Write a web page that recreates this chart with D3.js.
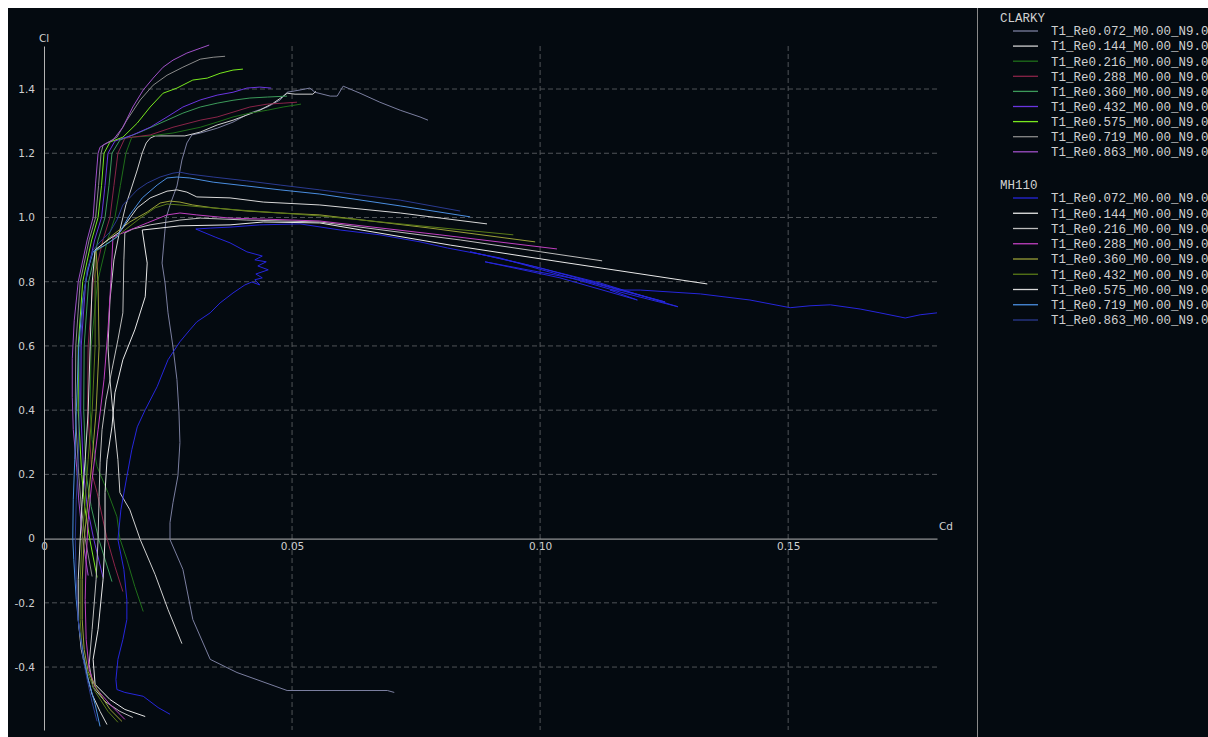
<!DOCTYPE html>
<html><head><meta charset="utf-8">
<script src="https://cdn.jsdelivr.net/npm/d3@7"></script>
<style>html,body{margin:0;padding:0;background:#fff;}svg{display:block}</style>
</head><body>
<svg id="chart" width="1208" height="737"></svg>
<script>
// ---------- DATA ----------
const airfoils = ["CLARKY", "MH110"];
const polarLabels = ["T1_Re0.072_M0.00_N9.0","T1_Re0.144_M0.00_N9.0","T1_Re0.216_M0.00_N9.0","T1_Re0.288_M0.00_N9.0","T1_Re0.360_M0.00_N9.0","T1_Re0.432_M0.00_N9.0","T1_Re0.575_M0.00_N9.0","T1_Re0.719_M0.00_N9.0","T1_Re0.863_M0.00_N9.0"];
const xTicks = [0, 0.05, 0.10, 0.15];
const xTickLabels = ["0", "0.05", "0.10", "0.15"];
const yTicks = [-0.4, -0.2, 0, 0.2, 0.4, 0.6, 0.8, 1.0, 1.2, 1.4];
const yTickLabels = ["-0.4", "-0.2", "0", "0.2", "0.4", "0.6", "0.8", "1.0", "1.2", "1.4"];

// CLARKY polars: [Cd, Cl]
const clarky072 = [[0.0706,-0.479],[0.0692,-0.473],[0.0490,-0.473],[0.0389,-0.417],[0.0335,-0.376],[0.0300,-0.252],[0.0280,-0.096],[0.0254,-0.003],[0.0254,0.050],[0.0260,0.112],[0.0270,0.196],[0.0274,0.299],[0.0272,0.395],[0.0268,0.495],[0.0260,0.597],[0.0250,0.703],[0.0244,0.796],[0.0238,0.858],[0.0246,0.998],[0.0254,1.039],[0.0268,1.098],[0.0278,1.179],[0.0288,1.232],[0.0298,1.257],[0.0315,1.263],[0.0349,1.278],[0.0381,1.297],[0.0415,1.325],[0.0450,1.344],[0.0476,1.366],[0.0490,1.390],[0.0516,1.397],[0.0536,1.403],[0.0546,1.390],[0.0577,1.378],[0.0591,1.378],[0.0603,1.409],[0.0637,1.387],[0.0677,1.359],[0.0718,1.334],[0.0758,1.313],[0.0774,1.303]];
const clarky144 = [[0.0278,-0.327],[0.0250,-0.221],[0.0224,-0.112],[0.0194,-0.003],[0.0173,0.090],[0.0153,0.143],[0.0149,0.246],[0.0139,0.392],[0.0133,0.495],[0.0129,0.597],[0.0133,0.743],[0.0141,0.868],[0.0153,0.961],[0.0165,1.039],[0.0177,1.095],[0.0188,1.148],[0.0198,1.201],[0.0206,1.232],[0.0214,1.247],[0.0224,1.254],[0.0284,1.254],[0.0315,1.266],[0.0349,1.288],[0.0381,1.303],[0.0409,1.319],[0.0435,1.334],[0.0462,1.356],[0.0480,1.375],[0.0490,1.387],[0.0506,1.384],[0.0542,1.384],[0.0548,1.393]];
const clarky216 = [[0.0200,-0.227],[0.0183,-0.149],[0.0167,-0.065],[0.0153,0],[0.0147,0.068],[0.0129,0.143],[0.0107,0.224],[0.0097,0.308],[0.0093,0.4],[0.0095,0.6],[0.0108,0.8],[0.0128,0.93],[0.0143,1.0],[0.0154,1.1],[0.0165,1.2],[0.0177,1.250],[0.0214,1.254],[0.0260,1.263],[0.0315,1.281],[0.0349,1.297],[0.0381,1.313],[0.0415,1.325],[0.0450,1.334],[0.0482,1.344],[0.0518,1.353]];
const clarky288 = [[0.0159,-0.165],[0.0143,-0.087],[0.0127,0],[0.0107,0.143],[0.0097,0.2],[0.0088,0.4],[0.0089,0.6],[0.0099,0.8],[0.0119,0.93],[0.0133,1.0],[0.0141,1.1],[0.0149,1.2],[0.0163,1.247],[0.0214,1.257],[0.0260,1.281],[0.0315,1.303],[0.0349,1.313],[0.0381,1.328],[0.0415,1.344],[0.0450,1.353],[0.0482,1.356],[0.0510,1.359]];
const clarky360 = [[0.0137,-0.134],[0.0110,0],[0.0095,0.1],[0.0085,0.2],[0.0080,0.4],[0.0081,0.6],[0.0090,0.8],[0.0109,0.93],[0.0123,1.0],[0.0131,1.1],[0.0137,1.2],[0.0153,1.241],[0.0194,1.266],[0.0248,1.303],[0.0280,1.325],[0.0315,1.344],[0.0349,1.356],[0.0381,1.365],[0.0415,1.372],[0.0450,1.375],[0.0490,1.378]];
const clarky432 = [[0.0119,-0.121],[0.0100,0],[0.0087,0.1],[0.0080,0.2],[0.0074,0.4],[0.0075,0.6],[0.0084,0.8],[0.0102,0.93],[0.0116,1.0],[0.0123,1.1],[0.0129,1.2],[0.0143,1.238],[0.0179,1.257],[0.0214,1.281],[0.0248,1.313],[0.0280,1.344],[0.0315,1.366],[0.0349,1.381],[0.0381,1.390],[0.0409,1.403],[0.0435,1.406],[0.0458,1.403]];
const clarky575 = [[0.0107,-0.121],[0.0092,0],[0.0082,0.1],[0.0076,0.2],[0.0069,0.4],[0.0069,0.6],[0.0078,0.8],[0.0096,0.93],[0.0109,1.0],[0.0116,1.1],[0.0121,1.2],[0.0133,1.235],[0.0159,1.250],[0.0188,1.294],[0.0214,1.344],[0.0240,1.387],[0.0268,1.403],[0.0300,1.428],[0.0329,1.434],[0.0355,1.449],[0.0381,1.459],[0.0401,1.462]];
const clarky719 = [[0.0097,-0.118],[0.0083,0],[0.0075,0.1],[0.0070,0.2],[0.0063,0.4],[0.0064,0.6],[0.0073,0.8],[0.0091,0.93],[0.0104,1.0],[0.0110,1.1],[0.0115,1.2],[0.0119,1.225],[0.0147,1.250],[0.0167,1.303],[0.0194,1.366],[0.0220,1.412],[0.0248,1.443],[0.0280,1.468],[0.0315,1.493],[0.0341,1.499],[0.0365,1.502]];
const clarky863 = [[0.0089,-0.115],[0.0078,0],[0.0070,0.12],[0.0066,0.22],[0.0059,0.34],[0.0057,0.44],[0.0057,0.56],[0.0061,0.68],[0.0069,0.80],[0.0087,0.93],[0.0099,1.0],[0.0104,1.107],[0.0109,1.2],[0.0113,1.219],[0.0123,1.229],[0.0139,1.241],[0.0159,1.281],[0.0179,1.344],[0.0200,1.397],[0.0220,1.434],[0.0240,1.468],[0.0260,1.490],[0.0288,1.512],[0.0315,1.527],[0.0333,1.537]];

// MH110 polars: [Cd, Cl]
const mh072 = [[0.0254,-0.547],[0.0230,-0.526],[0.0200,-0.491],[0.0163,-0.479],[0.0147,-0.470],[0.0145,-0.439],[0.0149,-0.376],[0.0159,-0.314],[0.0167,-0.252],[0.0167,-0.190],[0.0161,-0.096],[0.0149,-0.003],[0.0155,0.090],[0.0167,0.193],[0.0177,0.277],[0.0188,0.348],[0.0204,0.401],[0.0228,0.473],[0.0250,0.557],[0.0274,0.613],[0.0294,0.650],[0.0308,0.675],[0.0335,0.703],[0.0355,0.734],[0.0381,0.765],[0.0405,0.790],[0.0419,0.799],[0.0435,0.790],[0.0425,0.806],[0.0440,0.812],[0.0427,0.824],[0.0452,0.837],[0.0431,0.849],[0.0448,0.862],[0.0425,0.868],[0.0440,0.880],[0.0409,0.893],[0.0375,0.921],[0.0345,0.939],[0.0306,0.964],[0.0335,0.967],[0.0375,0.970],[0.0435,0.977],[0.0516,0.980],[0.0597,0.961],[0.0677,0.946],[0.0758,0.924],[0.0813,0.905],[0.0919,0.874],[0.1040,0.821],[0.1161,0.768],[0.1278,0.722],[0.1121,0.796],[0.0960,0.858],[0.0859,0.893],[0.1000,0.843],[0.1141,0.784],[0.1252,0.737],[0.1081,0.806],[0.0889,0.862],[0.1040,0.812],[0.1196,0.743],[0.1141,0.774],[0.1202,0.774],[0.1323,0.762],[0.1423,0.743],[0.1504,0.719],[0.1544,0.725],[0.1585,0.728],[0.1645,0.715],[0.1685,0.703],[0.1736,0.687],[0.1766,0.697],[0.1800,0.703]];
const mh144 = [[0.0204,-0.554],[0.0163,-0.532],[0.0133,-0.501],[0.0103,-0.454],[0.0099,-0.376],[0.0109,-0.283],[0.0119,-0.128],[0.0123,-0.003],[0.0123,0.143],[0.0127,0.246],[0.0137,0.348],[0.0143,0.454],[0.0159,0.557],[0.0183,0.650],[0.0204,0.753],[0.0208,0.858],[0.0198,0.961],[0.0234,0.967],[0.0274,0.974],[0.0375,0.977],[0.0442,0.986],[0.0556,0.983],[0.0819,0.914],[0.1040,0.862],[0.1337,0.793]];
const mh216 = [[0.0179,-0.557],[0.0153,-0.538],[0.0123,-0.507],[0.0099,-0.463],[0.0091,-0.392],[0.0097,-0.283],[0.0105,-0.128],[0.0109,-0.003],[0.0111,0.131],[0.0113,0.236],[0.0117,0.339],[0.0125,0.432],[0.0137,0.526],[0.0149,0.619],[0.0159,0.703],[0.0161,0.868],[0.0163,0.952],[0.0179,0.964],[0.0214,0.977],[0.0274,0.992],[0.0315,0.998],[0.0409,0.992],[0.0556,0.986],[0.0839,0.930],[0.1125,0.865]];
const mh288 = [[0.0163,-0.563],[0.0133,-0.516],[0.0103,-0.463],[0.0091,-0.407],[0.0085,-0.314],[0.0083,-0.190],[0.0085,-0.065],[0.0089,0.059],[0.0097,0.184],[0.0109,0.339],[0.0121,0.495],[0.0129,0.650],[0.0135,0.806],[0.0139,0.939],[0.0173,0.961],[0.0208,0.983],[0.0248,1.008],[0.0274,1.014],[0.0308,1.008],[0.0375,0.998],[0.0442,0.995],[0.0556,0.989],[0.0798,0.946],[0.1034,0.902]];
const mh360 = [[0.0157,-0.569],[0.0133,-0.532],[0.0107,-0.470],[0.0089,-0.414],[0.0081,-0.345],[0.0077,-0.252],[0.0077,-0.128],[0.0081,0],[0.0089,0.121],[0.0097,0.246],[0.0105,0.395],[0.0111,0.597],[0.0109,0.796],[0.0105,0.899],[0.0139,0.946],[0.0173,0.986],[0.0208,1.017],[0.0234,1.045],[0.0254,1.051],[0.0274,1.048],[0.0300,1.039],[0.0341,1.030],[0.0409,1.020],[0.0476,1.014],[0.0556,1.008],[0.0778,0.967],[0.0990,0.924]];
const mh432 = [[0.0149,-0.572],[0.0129,-0.538],[0.0103,-0.476],[0.0087,-0.414],[0.0077,-0.345],[0.0073,-0.252],[0.0073,-0.128],[0.0077,0],[0.0083,0.121],[0.0089,0.246],[0.0097,0.395],[0.0103,0.597],[0.0103,0.796],[0.0103,0.893],[0.0133,0.924],[0.0163,0.961],[0.0194,0.998],[0.0224,1.030],[0.0248,1.042],[0.0274,1.039],[0.0315,1.033],[0.0395,1.023],[0.0476,1.014],[0.0556,1.005],[0.0758,0.974],[0.0946,0.946]];
const mh575 = [[0.0127,-0.579],[0.0113,-0.538],[0.0097,-0.485],[0.0085,-0.414],[0.0075,-0.345],[0.0069,-0.252],[0.0069,-0.128],[0.0073,0],[0.0077,0.121],[0.0083,0.246],[0.0089,0.395],[0.0093,0.597],[0.0097,0.796],[0.0103,0.899],[0.0129,0.930],[0.0153,0.955],[0.0188,1.030],[0.0214,1.061],[0.0248,1.082],[0.0268,1.086],[0.0288,1.079],[0.0308,1.064],[0.0375,1.061],[0.0442,1.048],[0.0556,1.039],[0.0718,1.014],[0.0893,0.980]];
const mh719 = [[0.0113,-0.585],[0.0103,-0.516],[0.0089,-0.439],[0.0081,-0.376],[0.0071,-0.283],[0.0065,-0.190],[0.0060,-0.065],[0.0058,0],[0.0059,0.121],[0.0062,0.246],[0.0065,0.395],[0.0070,0.597],[0.0078,0.743],[0.0088,0.837],[0.0099,0.893],[0.0123,0.914],[0.0147,0.939],[0.0173,1.008],[0.0198,1.061],[0.0228,1.101],[0.0248,1.123],[0.0268,1.126],[0.0294,1.123],[0.0341,1.110],[0.0409,1.098],[0.0476,1.086],[0.0556,1.073],[0.0718,1.036],[0.0859,1.002]];
const mh863 = [[0.0107,-0.569],[0.0097,-0.510],[0.0087,-0.439],[0.0079,-0.376],[0.0069,-0.252],[0.0065,-0.128],[0.0063,0],[0.0065,0.121],[0.0069,0.246],[0.0071,0.395],[0.0073,0.597],[0.0079,0.743],[0.0087,0.837],[0.0099,0.899],[0.0113,0.924],[0.0133,0.955],[0.0147,0.992],[0.0159,1.039],[0.0188,1.086],[0.0208,1.107],[0.0234,1.126],[0.0260,1.138],[0.0274,1.141],[0.0294,1.135],[0.0341,1.126],[0.0409,1.114],[0.0476,1.101],[0.0556,1.086],[0.0718,1.054],[0.0839,1.020]];

const clarkyPolars = [clarky072, clarky144, clarky216, clarky288, clarky360, clarky432, clarky575, clarky719, clarky863];
const mh110Polars = [mh072, mh144, mh216, mh288, mh360, mh432, mh575, mh719, mh863];

// ---------- STYLE ----------
const clarkyColors = ["#7b7fa0", "#cfcfcf", "#1f6e1a", "#8a2448", "#3c9a5a", "#6a35e0", "#78e81e", "#8a8a8a", "#a050c8"];
const mh110Colors = ["#2626dc", "#e8e8e8", "#bdbdbd", "#c040c0", "#9aa038", "#5a7a18", "#d8d8d8", "#4a8ee0", "#2a3a90"];

const svg = d3.select("#chart");
const W = 1208, H = 737;
svg.append("rect").attr("width", W).attr("height", H).attr("fill", "#ffffff");
svg.append("rect").attr("x", 8).attr("y", 8).attr("width", W - 8).attr("height", H - 8).attr("fill", "#040a10");

const x = d3.scaleLinear().domain([0, 0.18]).range([44, 937]);
const y = d3.scaleLinear().domain([-0.596, 1.534]).range([730, 46]);

const axisColor = "#b4b4b4", textColor = "#d0d0d0";
const sans = "'DejaVu Sans', Verdana, sans-serif";

// grid
const grid = svg.append("g");
grid.selectAll("line.h").data(yTicks.filter(d => d !== 0)).join("line")
  .attr("x1", x(0)).attr("x2", x(0.18)).attr("y1", d => y(d)).attr("y2", d => y(d))
  .attr("stroke", "#505458").attr("stroke-dasharray", "5,3").attr("stroke-width", 1);
grid.selectAll("line.v").data(xTicks.filter(d => d !== 0)).join("line")
  .attr("x1", d => x(d)).attr("x2", d => x(d)).attr("y1", y(1.534)).attr("y2", y(-0.596))
  .attr("stroke", "#505458").attr("stroke-dasharray", "5,3").attr("stroke-width", 1);

// axes
const xAxis = d3.axisBottom(x).tickValues(xTicks).tickFormat((d, i) => xTickLabels[i]).tickSize(0).tickPadding(4);
const gx = svg.append("g").attr("transform", `translate(0,${y(0)})`).call(xAxis);
gx.select(".domain").attr("stroke", axisColor);
gx.selectAll("text").attr("fill", textColor).attr("font-family", sans).attr("font-size", 10.5);

const yAxis = d3.axisLeft(y).tickValues(yTicks).tickFormat((d, i) => yTickLabels[i]).tickSize(0).tickPadding(9);
const gy = svg.append("g").attr("transform", `translate(${x(0)},0)`).call(yAxis);
gy.select(".domain").attr("stroke", axisColor);
gy.selectAll("text").attr("fill", textColor).attr("font-family", sans).attr("font-size", 10.5);

svg.append("text").attr("x", x(0)).attr("y", y(1.534) - 4).attr("text-anchor", "middle")
  .attr("fill", textColor).attr("font-family", sans).attr("font-size", 10.5).text("Cl");
svg.append("text").attr("x", x(0.18) + 9).attr("y", y(0) - 9).attr("text-anchor", "middle")
  .attr("fill", textColor).attr("font-family", sans).attr("font-size", 10.5).text("Cd");

// clip
svg.append("clipPath").attr("id", "plotclip").append("rect")
  .attr("x", x(0)).attr("y", y(1.534) - 2).attr("width", x(0.18) - x(0) + 1).attr("height", y(-0.596) - y(1.534) + 4);

const line = d3.line().x(d => x(d[0])).y(d => y(d[1]));
const plot = svg.append("g").attr("clip-path", "url(#plotclip)");
const series = [];
clarkyPolars.forEach((p, i) => series.push({ data: p, color: clarkyColors[i] }));
mh110Polars.forEach((p, i) => series.push({ data: p, color: mh110Colors[i] }));
plot.selectAll("path").data(series).join("path")
  .attr("d", d => line(d.data)).attr("fill", "none")
  .attr("stroke", d => d.color).attr("stroke-width", 1).attr("stroke-linejoin", "round");

// legend
svg.append("line").attr("x1", 977.5).attr("x2", 977.5).attr("y1", 8).attr("y2", H).attr("stroke", "#8a8a8a");
const mono = "'Liberation Mono', 'DejaVu Sans Mono', monospace";
const legendGroups = [
  { name: airfoils[0], colors: clarkyColors, top: 18, step: 15.1 },
  { name: airfoils[1], colors: mh110Colors, top: 185, step: 15.25 }
];
legendGroups.forEach(g => {
  const lg = svg.append("g");
  lg.append("text").attr("x", 1000).attr("y", g.top).attr("dy", "0.35em")
    .attr("fill", textColor).attr("font-family", mono).attr("font-size", 12.5).text(g.name);
  polarLabels.forEach((lab, i) => {
    const yy = g.top + 13 + i * g.step;
    lg.append("line").attr("x1", 1013).attr("x2", 1038).attr("y1", yy).attr("y2", yy)
      .attr("stroke", g.colors[i]).attr("stroke-width", 1.3);
    lg.append("text").attr("x", 1051).attr("y", yy).attr("dy", "0.35em")
      .attr("fill", textColor).attr("font-family", mono).attr("font-size", 12.5).text(lab);
  });
});
</script>
</body></html>
